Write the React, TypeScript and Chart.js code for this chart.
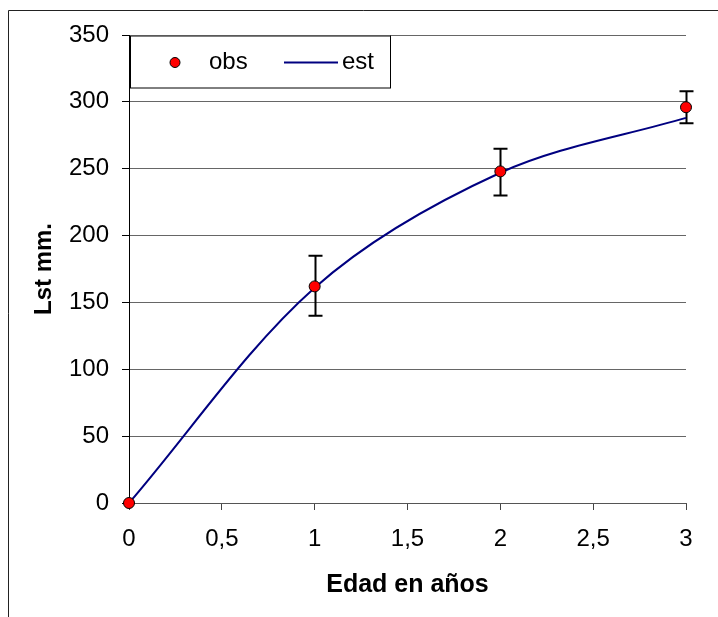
import React, { useEffect, useRef } from "react";
import { Chart, registerables } from "chart.js";

Chart.register(...registerables);

const obsX = [0, 1, 2, 3];
const obsY = [0, 162, 248, 296];
const errLow: (number | null)[] = [null, 140, 230, 284];
const errHigh: (number | null)[] = [null, 185, 265, 308];

const estX = [0, 1, 2, 3];
const estY = [0, 161, 247, 288];

const xTicksMin = 0;
const xTicksMax = 3;
const yTicksMin = 0;
const yTicksMax = 350;

const FONT = '"Liberation Sans", Arial, sans-serif';

const errorBarPlugin = {
  id: "errorBars",
  beforeDatasetsDraw(chart: any) {
    const ctx = chart.ctx;
    const xs = chart.scales.x;
    const ys = chart.scales.y;
    ctx.save();
    ctx.strokeStyle = "#000";
    ctx.lineWidth = 2;
    for (let i = 0; i < obsX.length; i++) {
      const lo = errLow[i];
      const hi = errHigh[i];
      if (lo == null || hi == null) continue;
      const px = Math.round(xs.getPixelForValue(obsX[i])) + 0.5;
      const pl = ys.getPixelForValue(lo);
      const ph = ys.getPixelForValue(hi);
      ctx.beginPath();
      ctx.moveTo(px, pl);
      ctx.lineTo(px, ph);
      ctx.moveTo(px - 7, pl);
      ctx.lineTo(px + 7, pl);
      ctx.moveTo(px - 7, ph);
      ctx.lineTo(px + 7, ph);
      ctx.stroke();
    }
    ctx.restore();
  },
};

const framePlugin = {
  id: "frameAndLegend",
  afterDraw(chart: any) {
    const ctx = chart.ctx;
    const ds = chart.data.datasets;
    ctx.save();
    // outer frame
    ctx.strokeStyle = "#222";
    ctx.lineWidth = 1;
    ctx.beginPath();
    ctx.moveTo(8.5, 617);
    ctx.lineTo(8.5, 10.5);
    ctx.lineTo(718, 10.5);
    ctx.stroke();
    // legend box
    const bx = chart.chartArea.left + 1;
    const by = chart.chartArea.top + 0.5;
    ctx.fillStyle = "#fff";
    ctx.fillRect(bx, by, 260, 52);
    ctx.strokeStyle = "#000";
    ctx.strokeRect(bx + 0.5, by + 0.5, 260, 52);
    const cy = by + 27;
    // obs marker
    ctx.beginPath();
    ctx.arc(bx + 45, cy, 5, 0, Math.PI * 2);
    ctx.fillStyle = "#ff0000";
    ctx.fill();
    ctx.lineWidth = 1;
    ctx.strokeStyle = "#000";
    ctx.stroke();
    ctx.font = `24px ${FONT}`;
    ctx.fillStyle = "#000";
    ctx.textBaseline = "middle";
    ctx.textAlign = "left";
    ctx.fillText(ds[0].label, bx + 79, cy);
    // est line
    ctx.strokeStyle = "#000080";
    ctx.lineWidth = 2;
    ctx.beginPath();
    ctx.moveTo(bx + 154, cy);
    ctx.lineTo(bx + 208, cy);
    ctx.stroke();
    ctx.fillText(ds[1].label, bx + 212, cy);
    ctx.restore();
  },
};

export default function App() {
  const ref = useRef<HTMLCanvasElement>(null);
  useEffect(() => {
    if (!ref.current) return;
    const chart = new Chart(ref.current, {
      type: "scatter",
      data: {
        datasets: [
          {
            label: "obs",
            data: obsX.map((x, i) => ({ x, y: obsY[i] })),
            showLine: false,
            pointRadius: 5.5,
            pointBackgroundColor: "#ff0000",
            pointBorderColor: "#000",
            pointBorderWidth: 1,
            clip: false,
          },
          {
            label: "est",
            data: estX.map((x, i) => ({ x, y: estY[i] })),
            showLine: true,
            borderColor: "#000080",
            borderWidth: 2,
            pointRadius: 0,
            tension: 0.33,
            clip: false,
          },
        ],
      },
      options: {
        animation: false,
        responsive: false,
        events: [],
        layout: { padding: { left: 0, top: 35, right: 32, bottom: 0 } },
        plugins: { legend: { display: false }, tooltip: { enabled: false } },
        scales: {
          x: {
            type: "linear",
            min: xTicksMin,
            max: xTicksMax,
            afterFit(scale: any) {
              scale.height = 114;
            },
            ticks: {
              stepSize: 0.5,
              padding: 15,
              color: "#000",
              font: { family: FONT, size: 24 },
              callback: (v: any) => String(v).replace(".", ","),
            },
            grid: {
              drawOnChartArea: false,
              drawTicks: true,
              tickLength: 7,
              tickColor: "#444",
            },
            border: { color: "#555", width: 1 },
            title: {
              display: true,
              text: "Edad en años",
              color: "#000",
              font: { family: FONT, size: 25, weight: "bold" },
              padding: { top: 0, bottom: 17 },
            },
          },
          y: {
            min: yTicksMin,
            max: yTicksMax,
            afterFit(scale: any) {
              scale.width = 129;
            },
            ticks: {
              stepSize: 50,
              padding: 13,
              color: "#000",
              font: { family: FONT, size: 24 },
            },
            grid: {
              color: "#666",
              tickColor: "#000",
              tickLength: 7,
            },
            border: { color: "#000", width: 1 },
            title: {
              display: true,
              text: "Lst mm.",
              color: "#000",
              font: { family: FONT, size: 24, weight: "bold" },
              padding: { top: 30, bottom: 0 },
            },
          },
        },
      },
      plugins: [errorBarPlugin, framePlugin],
    });
    return () => chart.destroy();
  }, []);
  return (
    <div style={{ position: "fixed", left: 0, top: 0, width: 718, height: 617, background: "#fff" }}>
      <canvas ref={ref} width={718} height={617} style={{ display: "block" }} />
    </div>
  );
}
